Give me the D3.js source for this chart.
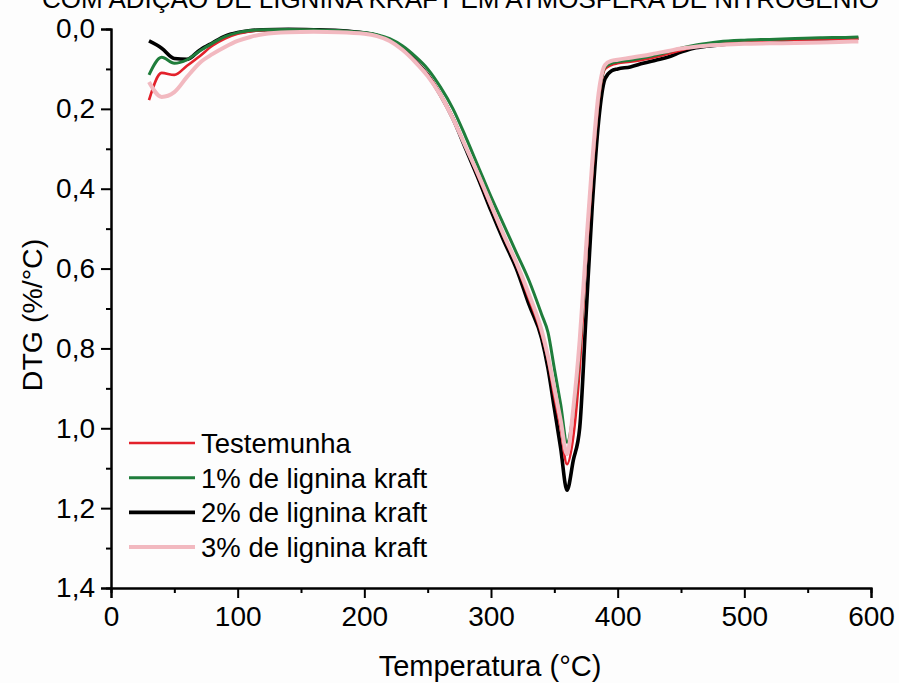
<!DOCTYPE html>
<html>
<head>
<meta charset="utf-8">
<script src="https://cdn.jsdelivr.net/npm/d3@7/dist/d3.min.js"></script>
<style>
  html, body { margin: 0; padding: 0; background: #fdfdfd; }
  svg { display: block; }
  text { font-family: "Liberation Sans", Arial, sans-serif; fill: #000; }
</style>
</head>
<body>
<svg id="chart" width="899" height="683"></svg>
<script>
// Temperature grid (°C) shared by all series
const temps = [30,40,50,60,70,80,90,100,110,120,
  140,160,180,200,210,220,230,240,250,260,
  270,280,290,300,310,320,330,340,345,350,
  355,360,365,370,375,380,385,390,395,400,
  410,420,430,440,450,460,470,480,500,520,
  540,560,580,590];

// DTG (%/°C) for each formulation
const testemunha = [0.178,0.110,0.115,0.092,0.068,0.042,0.024,0.012,0.006,0.003,
  0.002,0.003,0.005,0.011,0.017,0.029,0.050,0.080,0.115,0.162,
  0.222,0.295,0.370,0.445,0.520,0.590,0.675,0.765,0.830,0.920,
  1.000,1.090,1.020,0.850,0.580,0.360,0.180,0.100,0.090,0.086,
  0.082,0.077,0.070,0.062,0.053,0.045,0.039,0.035,0.031,0.029,
  0.027,0.026,0.025,0.024];

const lignina1 = [0.115,0.071,0.086,0.077,0.055,0.036,0.019,0.009,0.004,0.002,
  0.001,0.002,0.004,0.009,0.014,0.024,0.042,0.068,0.100,0.145,
  0.200,0.270,0.345,0.420,0.490,0.560,0.630,0.715,0.760,0.850,
  0.940,1.035,0.960,0.800,0.560,0.340,0.170,0.095,0.086,0.082,
  0.078,0.072,0.065,0.057,0.048,0.041,0.036,0.032,0.028,0.026,
  0.024,0.022,0.021,0.020];

const lignina2 = [0.030,0.048,0.074,0.076,0.053,0.035,0.018,0.009,0.004,0.002,
  0.001,0.002,0.004,0.010,0.016,0.028,0.048,0.078,0.115,0.165,
  0.225,0.300,0.375,0.455,0.530,0.600,0.690,0.775,0.850,0.950,
  1.050,1.155,1.080,1.000,0.720,0.440,0.230,0.125,0.105,0.100,
  0.095,0.086,0.078,0.070,0.058,0.048,0.043,0.040,0.033,0.030,
  0.028,0.026,0.024,0.023];

const lignina3 = [0.133,0.170,0.158,0.120,0.085,0.063,0.045,0.030,0.020,0.013,
  0.008,0.007,0.008,0.012,0.018,0.030,0.052,0.082,0.118,0.165,
  0.225,0.295,0.365,0.440,0.515,0.585,0.665,0.755,0.820,0.900,
  0.980,1.065,0.950,0.780,0.550,0.330,0.160,0.090,0.080,0.077,
  0.072,0.067,0.061,0.055,0.049,0.045,0.042,0.040,0.037,0.036,
  0.035,0.034,0.032,0.031];

const seriesNames = ["Testemunha", "1% de lignina kraft", "2% de lignina kraft", "3% de lignina kraft"];
const seriesColors = ["#e3212b", "#1f7d3b", "#000000", "#f2b9c0"];
const seriesWidths = [2.6, 3, 3.6, 4];
const seriesValues = [testemunha, lignina1, lignina2, lignina3];

const xTicks = [0, 100, 200, 300, 400, 500, 600];
const yTicks = [0, 0.2, 0.4, 0.6, 0.8, 1.0, 1.2, 1.4];

const svg = d3.select("#chart");

const x = d3.scaleLinear().domain([0, 600]).range([111, 871]);
const y = d3.scaleLinear().domain([0, 1.4]).range([29, 588]);

// Title strip along the top edge
svg.append("text")
  .attr("x", 42).attr("y", 8)
  .attr("font-size", 26)
  .text("COM ADIÇÃO DE LIGNINA KRAFT EM ATMOSFERA DE NITROGÊNIO");

const commaFmt = v => d3.format(".1f")(v).replace(".", ",");

// Minor ticks
const yAxisMinor = d3.axisLeft(y).tickValues(d3.range(0.1, 1.4, 0.2)).tickSize(5).tickFormat("");
const xAxisMinor = d3.axisBottom(x).tickValues(d3.range(50, 600, 100)).tickSize(5).tickFormat("");

const gy = svg.append("g").attr("transform", `translate(${x(0)},0)`)
  .call(d3.axisLeft(y).tickValues(yTicks).tickSize(10).tickPadding(6).tickFormat(commaFmt));
svg.append("g").attr("transform", `translate(${x(0)},0)`).call(yAxisMinor);

const gx = svg.append("g").attr("transform", `translate(0,${y(1.4)})`)
  .call(d3.axisBottom(x).tickValues(xTicks).tickSize(10).tickPadding(8).tickFormat(d3.format("d")));
svg.append("g").attr("transform", `translate(0,${y(1.4)})`).call(xAxisMinor);

svg.selectAll(".domain").attr("stroke", "#000").attr("stroke-width", 2);
svg.selectAll(".tick line").attr("stroke", "#000").attr("stroke-width", 2);
gy.selectAll(".tick text").attr("font-size", 28).attr("font-family", "Liberation Sans, Arial, sans-serif").attr("fill", "#000");
gx.selectAll(".tick text").attr("font-size", 28).attr("font-family", "Liberation Sans, Arial, sans-serif").attr("fill", "#000");

// Axis titles
svg.append("text")
  .attr("x", 490).attr("y", 676)
  .attr("text-anchor", "middle")
  .attr("font-size", 29)
  .text("Temperatura (°C)");

svg.append("text")
  .attr("transform", "translate(42,315) rotate(-90)")
  .attr("text-anchor", "middle")
  .attr("font-size", 28.5)
  .text("DTG (%/°C)");

// Curves
const line = d3.line()
  .x((d, i) => x(temps[i]))
  .y(d => y(d))
  .curve(d3.curveMonotoneX);

const drawOrder = [2, 0, 1, 3];
drawOrder.forEach(k => {
  svg.append("path")
    .datum(seriesValues[k])
    .attr("fill", "none")
    .attr("stroke", seriesColors[k])
    .attr("stroke-width", seriesWidths[k])
    .attr("stroke-linejoin", "round")
    .attr("d", line);
});

// Legend
const legend = svg.append("g");
seriesNames.forEach((name, i) => {
  const ly = 443 + i * 34.7;
  legend.append("line")
    .attr("x1", 129).attr("x2", 195)
    .attr("y1", ly).attr("y2", ly)
    .attr("stroke", seriesColors[i])
    .attr("stroke-width", seriesWidths[i]);
  legend.append("text")
    .attr("x", 201).attr("y", ly + 10)
    .attr("font-size", 27.5)
    .text(name);
});
</script>
</body>
</html>
